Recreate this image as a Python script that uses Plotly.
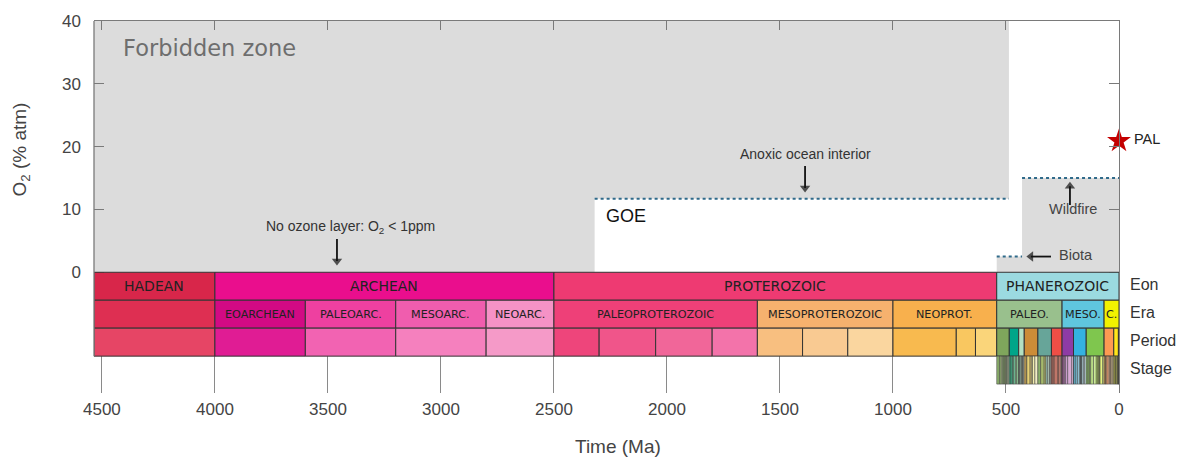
import plotly.graph_objects as go

# ---------------- data ----------------
X_LEFT = 4535          # oldest age shown (Ma)
Y_TOP = 40             # top of O2 axis (% atm)
x_tick_vals = [4500, 4000, 3500, 3000, 2500, 2000, 1500, 1000, 500, 0]
y_tick_vals = [0, 10, 20, 30, 40]

# O2 constraints
goe_age = 2320
anoxic_end_age = 487
anoxic_o2 = 11.7
biota_start_age = 541
biota_o2 = 2.5
wildfire_start_age = 429
wildfire_o2 = 15.0
pal_o2 = 20.9

# timescale rows (O2-axis units below zero): top, bottom
row_names = ["Eon", "Era", "Period", "Stage"]
row_top = [0, -4.45, -8.9, -13.35]
row_bot = [-4.45, -8.9, -13.35, -17.8]
Y_BOTTOM = -19.22

eon_names = ["HADEAN", "ARCHEAN", "PROTEROZOIC", "PHANEROZOIC"]
eon_start = [4535, 4000, 2500, 541]
eon_end = [4000, 2500, 541, 0]
eon_colors = ["#D8264A", "#EA0E8D", "#EE3A72", "#9BDAE0"]

era_names = ["", "EOARCHEAN", "PALEOARC.", "MESOARC.", "NEOARC.",
             "PALEOPROTEROZOIC", "MESOPROTEROZOIC", "NEOPROT.",
             "PALEO.", "MESO.", "C."]
era_start = [4535, 4000, 3600, 3200, 2800, 2500, 1600, 1000, 541, 251.9, 66]
era_end = [4000, 3600, 3200, 2800, 2500, 1600, 1000, 541, 251.9, 66, 0]
era_colors = ["#DE2F52", "#D20A84", "#EE40A0", "#F05DAE", "#F592C6",
              "#EE4078", "#F6B16E", "#F8B04D",
              "#99C08D", "#5FC6DE", "#F2F200"]

period_start = [4535, 4000, 3600, 3200, 2800,
                2500, 2300, 2050, 1800, 1600, 1400, 1200, 1000, 720, 635,
                541, 485.4, 443.8, 419.2, 358.9, 298.9, 251.9, 201.3, 145, 66, 23.03, 2.58]
period_end = [4000, 3600, 3200, 2800, 2500,
              2300, 2050, 1800, 1600, 1400, 1200, 1000, 720, 635, 541,
              485.4, 443.8, 419.2, 358.9, 298.9, 251.9, 201.3, 145, 66, 23.03, 2.58, 0]
period_colors = ["#E64565", "#E01C94", "#F263B2", "#F580BE", "#F59AC8",
                 "#EE457B", "#F0558A", "#F16699", "#F373AA",
                 "#F8BF80", "#F9CA92", "#FAD69F",
                 "#F8BA4F", "#F9C760", "#FAD57A",
                 "#7FA65C", "#00A589", "#B3E1C2", "#CB8C37", "#67A599", "#EF4E46",
                 "#8E3BA5", "#34B2E0", "#7FC64E", "#FD9A52", "#FFE619", "#F9F97F"]

stage_bounds = [541, 529, 521, 514, 509, 504.5, 500.5, 497, 494, 489.5, 485.4,
                477.7, 470, 467.3, 458.4, 453, 445.2, 443.8,
                440.8, 438.5, 433.4, 430.5, 427.4, 425.6, 423, 419.2,
                410.8, 407.6, 393.3, 387.7, 382.7, 372.2, 358.9,
                346.7, 330.9, 323.2, 315.2, 307, 303.7, 298.9,
                295, 290.1, 283.5, 272.95, 268.8, 265.1, 259.1, 254.14, 251.9,
                251.2, 247.2, 242, 237, 227, 208.5, 201.3,
                199.3, 190.8, 182.7, 174.1, 170.3, 168.3, 166.1, 163.5, 157.3, 152.1, 145,
                139.8, 132.9, 129.4, 125, 113, 100.5, 93.9, 89.8, 86.3, 83.6, 72.1, 66,
                61.6, 59.2, 56, 47.8, 41.2, 37.8, 33.9, 27.82, 23.03,
                20.44, 15.97, 13.82, 11.63, 7.246, 5.333, 3.6, 2.58,
                1.8, 0.774, 0.129, 0]
stage_colors = ["#8CB06C", "#99B575", "#A6BA80", "#99C078", "#A6C583", "#B3CA8E", "#BFD99D", "#CCDFAA", "#D9F0BB", "#E6F5C9",
                "#33A97E", "#41B087", "#66C092", "#74C69C", "#8CD094", "#99D69F", "#A6DBAB",
                "#A6DCB5", "#B3E1C2", "#BFE6CF", "#BFE6C3", "#CCEBD1", "#CCECDD", "#D9F0DF", "#E6F5E1",
                "#E5B75A", "#E5C468", "#E5D075", "#F1D576", "#F1E185", "#F2EDAD", "#F2EDC5",
                "#8CB06C", "#A6B96C", "#BFC26B", "#99C2B5", "#B3CBB9", "#BFD0C5", "#CCD4C7",
                "#E36350", "#E36F5C", "#E37B68", "#E38776", "#FB8069", "#FB8D76", "#FB9A85", "#FCB4A2", "#FCC0B2",
                "#A4469F", "#B051A5", "#BC75B7", "#C983BF", "#C99BCB", "#D6AAD3", "#E3B9DB",
                "#4EB3D3", "#67BCD8", "#80C5DD", "#99CEE3", "#9AD9DD", "#A6DDE0", "#B3E2E3", "#BFE7E5", "#BFE7F1", "#CCECF4", "#D9F1F7",
                "#8CCD60", "#99D36A", "#A6D975", "#B3DF7F", "#BFE48A", "#CCEA97", "#B3DE53", "#BFE35D", "#CCE968", "#D9EF74", "#E6F47F", "#F2FA8C",
                "#FDB462", "#FEBF65", "#FDBF6F", "#FCA773", "#FCB482", "#FDC091", "#FDCDA1", "#FED99A", "#FEE6AA",
                "#FFFF33", "#FFFF41", "#FFFF4D", "#FFFF59", "#FFFF66", "#FFFF73", "#FFFF99", "#FFFFBF",
                "#FFEDB3", "#FFF2BA", "#FFF2C7", "#FFF2D3"]

# annotation arrows: (tail age, tail O2, head age, head O2)
arrow_tail_x = [3460, 1389, 217, 301]
arrow_tail_y = [5.3, 16.9, 10.7, biota_o2]
arrow_head_x = [3460, 1389, 217, 390]
arrow_head_y = [1.8, 13.4, 13.7, biota_o2]

# ---------------- figure ----------------
fig = go.Figure()

# forbidden zone (upper constraint before Phanerozoic)
fz_x = [X_LEFT, X_LEFT, anoxic_end_age, anoxic_end_age, goe_age, goe_age]
fz_y = [0, Y_TOP, Y_TOP, anoxic_o2, anoxic_o2, 0]
fig.add_trace(go.Scatter(x=fz_x, y=fz_y, fill="toself", fillcolor="#DCDCDC",
                         mode="lines", line=dict(width=0), hoverinfo="skip", showlegend=False))
# Phanerozoic lower constraints
ph_x = [biota_start_age, biota_start_age, wildfire_start_age, wildfire_start_age, 0, 0]
ph_y = [0, biota_o2, biota_o2, wildfire_o2, wildfire_o2, 0]
fig.add_trace(go.Scatter(x=ph_x, y=ph_y, fill="toself", fillcolor="#DCDCDC",
                         mode="lines", line=dict(width=0), hoverinfo="skip", showlegend=False))

dot_line = dict(color="#2F6A8A", width=2, dash="3px,3px")
for xs, ys in [([goe_age, anoxic_end_age], [anoxic_o2, anoxic_o2]),
               ([biota_start_age, wildfire_start_age], [biota_o2, biota_o2]),
               ([wildfire_start_age, 0], [wildfire_o2, wildfire_o2])]:
    fig.add_trace(go.Scatter(x=xs, y=ys, mode="lines", line=dot_line,
                             hoverinfo="skip", showlegend=False))

# arrows (line + triangular head oriented along the segment)
for i in range(len(arrow_tail_x)):
    fig.add_trace(go.Scatter(
        x=[arrow_tail_x[i], arrow_head_x[i]], y=[arrow_tail_y[i], arrow_head_y[i]],
        mode="lines+markers", line=dict(color="#111111", width=1.8),
        marker=dict(symbol="triangle-up", size=[0, 9], angleref="previous", color="#111111",
                    line=dict(width=0)),
        hoverinfo="skip", showlegend=False))

# PAL star
fig.add_trace(go.Scatter(x=[0], y=[pal_o2], mode="markers",
                         marker=dict(symbol="star", size=18, color="#C40000",
                                     line=dict(width=0)),
                         cliponaxis=False, hoverinfo="skip", showlegend=False))

shapes = []
annots = []
box_line = dict(color="#333333", width=1)


def add_row(starts, ends, colors, r, names=None, size=11, line=box_line):
    for i in range(len(starts)):
        shapes.append(dict(type="rect", xref="x", yref="y", layer="above",
                           x0=starts[i], x1=ends[i], y0=row_bot[r], y1=row_top[r],
                           fillcolor=colors[i], line=line))
        if names and names[i]:
            annots.append(dict(x=(starts[i] + ends[i]) / 2, y=(row_top[r] + row_bot[r]) / 2,
                               xref="x", yref="y", text=names[i], showarrow=False,
                               font=dict(family="DejaVu Sans", size=size, color="#222222")))


add_row(eon_start, eon_end, eon_colors, 0, eon_names, size=14)
add_row(era_start, era_end, era_colors, 1, era_names, size=11.2)
add_row(period_start, period_end, period_colors, 2)
add_row(stage_bounds[:-1], stage_bounds[1:], stage_colors, 3,
        line=dict(color="rgba(55,55,55,0.85)", width=0.6))

# left frame line (stops at bottom of the period row)
shapes.append(dict(type="line", xref="paper", yref="y", x0=0, x1=0,
                   y0=row_bot[2], y1=Y_TOP, line=dict(color="#7A7A7A", width=1.3),
                   layer="above"))

# row labels
for r, nm in enumerate(row_names):
    annots.append(dict(x=1, xref="paper", xshift=9, xanchor="left",
                       y=(row_top[r] + row_bot[r]) / 2 + 0.3, yref="y", text=nm, showarrow=False,
                       font=dict(family="Liberation Sans", size=16, color="#333333")))

txt = dict(family="Liberation Sans", size=14, color="#333333")
titlefont = dict(family="Liberation Sans", size=19, color="#444444")

annots += [
    dict(x=4416, y=35.7, xref="x", yref="y", text="Forbidden zone", showarrow=False,
         xanchor="left", font=dict(family="DejaVu Sans", size=22.5, color="#6E6E6E")),
    dict(x=2279, y=9.0, xref="x", yref="y", text="GOE", showarrow=False,
         xanchor="left", font=dict(family="Liberation Sans", size=18, color="#111111")),
    dict(x=3398, y=7.2, xref="x", yref="y", text="No ozone layer: O<sub>2</sub> &lt; 1ppm",
         showarrow=False, font=txt),
    dict(x=1385, y=18.9, xref="x", yref="y", text="Anoxic ocean interior",
         showarrow=False, font=txt),
    dict(x=204, y=10.1, xref="x", yref="y", text="Wildfire", showarrow=False,
         font=dict(family="Liberation Sans", size=14.5, color="#444444")),
    dict(x=274, y=biota_o2 + 0.3, xref="x", yref="y", text="Biota", showarrow=False,
         xanchor="left", font=dict(family="Liberation Sans", size=14.5, color="#444444")),
    dict(x=1, xref="paper", xshift=13, xanchor="left", y=pal_o2 + 0.3, yref="y", text="PAL",
         showarrow=False, font=dict(family="Liberation Sans", size=14.5, color="#222222")),
    dict(x=-0.085, y=0.654, xref="paper", yref="paper", text="O<sub>2</sub> (% atm)",
         textangle=-90, showarrow=False, font=titlefont),
    dict(x=0.5117, y=-0.178, xref="paper", yref="paper", text="Time (Ma)",
         showarrow=False, font=titlefont),
]

tickfont = dict(family="Liberation Sans", size=17, color="#444444")
fig.update_layout(
    width=1182, height=461,
    margin=dict(l=94, r=63, t=14, b=68),
    paper_bgcolor="white", plot_bgcolor="white",
    showlegend=False,
    shapes=shapes, annotations=annots,
    xaxis=dict(range=[X_LEFT, 0], tickvals=x_tick_vals, ticks="inside", ticklen=37,
               tickcolor="#8A8A8A", tickwidth=1.2, showline=False, showgrid=False,
               zeroline=False, tickfont=tickfont, ticklabelstandoff=4),
    xaxis2=dict(range=[X_LEFT, 0], overlaying="x", side="top", tickvals=x_tick_vals,
                ticks="inside", ticklen=9, tickcolor="#7A7A7A", tickwidth=1.2,
                showticklabels=False, showline=True, linecolor="#7A7A7A", linewidth=1.3,
                showgrid=False, zeroline=False),
    yaxis=dict(range=[Y_BOTTOM, Y_TOP], tickvals=y_tick_vals, ticks="inside", ticklen=10,
               tickcolor="#7A7A7A", tickwidth=1.2, showline=False, showgrid=False,
               zeroline=False, tickfont=tickfont, ticklabelstandoff=12),
    yaxis2=dict(range=[Y_BOTTOM, Y_TOP], overlaying="y", side="right", tickvals=y_tick_vals,
                ticks="inside", ticklen=10, tickcolor="#7A7A7A", tickwidth=1.2,
                showticklabels=False, showline=True, linecolor="#7A7A7A", linewidth=1.3,
                showgrid=False, zeroline=False),
)
# invisible trace to activate the mirrored (top/right) axes
fig.add_trace(go.Scatter(x=[0], y=[0], xaxis="x2", yaxis="y2", mode="markers",
                         marker=dict(opacity=0), hoverinfo="skip", showlegend=False))

fig.write_html("out.html")
